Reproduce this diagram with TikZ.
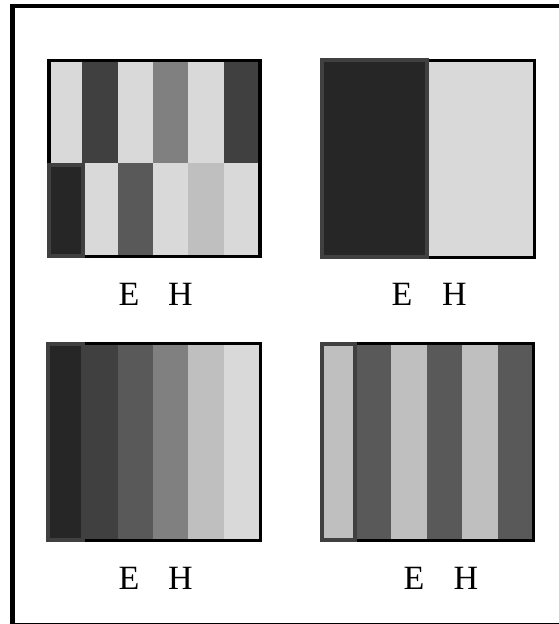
\documentclass[tikz,border=0pt]{standalone}
\usepackage{fontspec}
\setmainfont{Liberation Serif}
\usepackage{tikz}
\usepackage{xcolor}

\definecolor{lvlA}{HTML}{262626}
\definecolor{lvlB}{HTML}{404040}
\definecolor{lvlC}{HTML}{595959}
\definecolor{lvlD}{HTML}{808080}
\definecolor{lvlE}{HTML}{BFBFBF}
\definecolor{lvlF}{HTML}{D9D9D9}

\begin{document}
\begin{tikzpicture}[x=1pt, y=-1pt,
    lbl/.style={anchor=base, inner sep=0pt, font=\fontsize{34}{40}\selectfont},
    panelframe/.style={draw=black, line width=3.5pt},
    hilite/.style={draw=lvlB, line width=4pt}]
    \useasboundingbox (0,0) rectangle (559,624);

    % Outer frame (right and bottom run past the page)
    \draw[line width=4.5pt] (12.5,6.2) rectangle (563,625);

    % Top left: two rows of stripes
    \foreach \c [count=\i from 0] in {lvlF,lvlB,lvlF,lvlD,lvlF,lvlB}
        \fill[\c] (47+35.3*\i,59) rectangle ++(36,104);
    \foreach \c [count=\i from 0] in {lvlA,lvlF,lvlC,lvlF,lvlE,lvlF}
        \fill[\c] (47+35.3*\i,163) rectangle ++(36,95);
    \draw[panelframe] (49,60.5) rectangle (260,256.5);
    \filldraw[hilite, fill=lvlA] (48.5,164.7) rectangle (83,256.3);
    \node[lbl] (eA) at (129,305) {E};
    \node[lbl] (hA) at (180.5,305) {H};

    % Top right: two halves
    \fill[lvlF] (427,59) rectangle (535,258);
    \draw[panelframe, line width=3pt] (321.5,60) rectangle (534,257.5);
    \filldraw[hilite, fill=lvlA] (322,59.7) rectangle (427,257.3);
    \node[lbl] (eB) at (402,305) {E};
    \node[lbl] (hB) at (454.5,305) {H};

    % Bottom left: dark to light
    \foreach \c [count=\i from 0] in {lvlA,lvlB,lvlC,lvlD,lvlE,lvlF}
        \fill[\c] (47+35.3*\i,343) rectangle ++(36,198);
    \draw[panelframe, line width=3pt] (49,343.5) rectangle (260,540);
    \filldraw[hilite, fill=lvlA] (48,344) rectangle (83,540);
    \node[lbl] (eC) at (129,589) {E};
    \node[lbl] (hC) at (180.5,589) {H};

    % Bottom right: alternating
    \foreach \c [count=\i from 0] in {lvlE,lvlC,lvlE,lvlC,lvlE,lvlC}
        \fill[\c] (320+35.5*\i,343) rectangle ++(36,198);
    \draw[panelframe, line width=3pt] (322,343.5) rectangle (533.5,540);
    \filldraw[hilite, fill=lvlE] (322,344) rectangle (355,540);
    \node[lbl] (eD) at (414,589) {E};
    \node[lbl] (hD) at (466,589) {H};
\end{tikzpicture}
\end{document}
